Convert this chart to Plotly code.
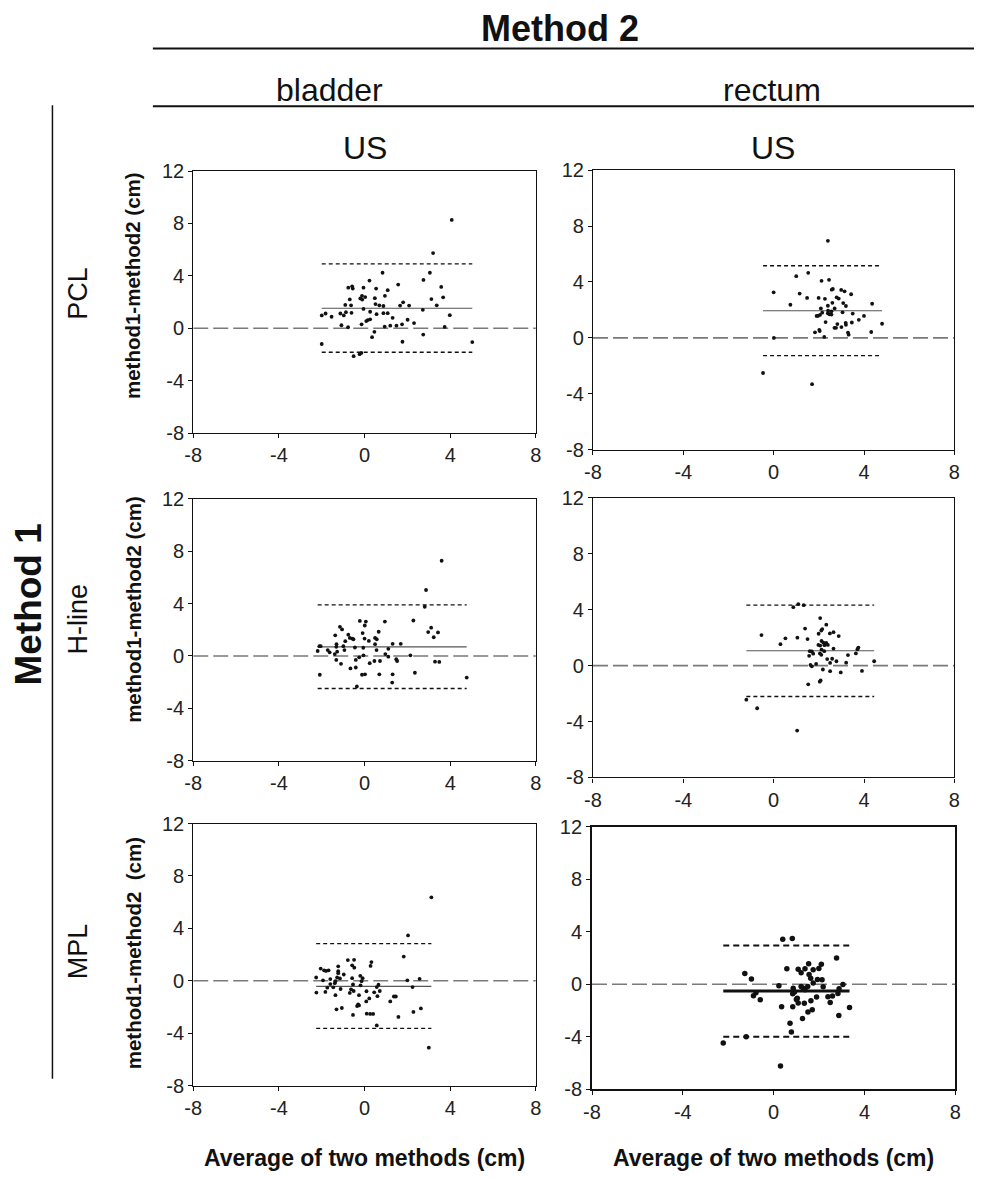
import plotly.graph_objects as go

# page offset (browser body margin) compensation
OFF = 8
FW, FH = 982 - OFF, 1178 - OFF

# ---------------- data ----------------
# Panel PCL / bladder
pcl_bl_x = [4.07, 3.2, 0.84, 3.05, 2.75, 0.23, 1.57, 3.58, -0.76, -0.58, -0.55, -0.05, 0.54, 1.08,
            -0.12, 0.95, -0.2, -0.11, 0.03, -0.69, 0.48, 3.12, 3.67, 1.8, 1.66, 2.08, 3.37, -0.9,
            -0.63, 0.51, 0.69, 0.88, -0.05, 0.26, 2.72, -2.0, -1.82, -1.54, -1.13, -0.97, -0.87,
            -0.61, 0.56, 0.88, 1.08, 3.98, 1.31, 0.08, 0.15, 0.26, 2.01, 2.31, -1.08, -0.77, -0.14,
            0.94, 1.2, 1.49, 1.75, 3.74, 0.46, 0.35, 2.74, -2.0, 1.77, 5.03, -0.51, -0.23, -0.15]
pcl_bl_y = [8.27, 5.74, 4.24, 4.24, 3.69, 3.64, 3.34, 3.16, 3.1, 3.2, 3.03, 3.1, 3.03, 2.91,
            2.48, 2.48, 2.28, 2.19, 2.38, 2.2, 2.3, 2.23, 2.36, 1.98, 1.73, 1.73, 1.75, 1.78,
            1.75, 1.85, 1.75, 1.7, 1.48, 1.26, 1.41, 0.98, 1.13, 0.88, 1.13, 0.98, 1.23,
            1.18, 1.08, 1.15, 1.15, 1.0, 0.8, 0.55, 0.63, 0.68, 0.65, 0.4, 0.23, 0.08, 0.3,
            0.13, 0.2, 0.2, 0.3, 0.1, -0.27, -0.68, -0.48, -1.2, -1.03, -1.05, -2.13, -1.98, -1.88]

# Panel PCL / rectum
pcl_re_x = [2.4, 1.0, 1.53, 2.12, 2.45, 0.0, 1.15, 2.57, 2.62, 2.99, 3.14, 3.43, 1.48, 1.99, 2.27,
            2.79, 2.88, 0.74, 2.6, 2.4, 3.08, 3.2, 4.36, 2.09, 2.7, 2.41, 2.56, 2.15, 3.05, 2.4,
            2.56, 2.47, 3.5, 2.05, 1.96, 1.9, 4.0, 3.77, 2.3, 3.19, 3.2, 2.82, 3.46, 4.8, 3.0,
            2.69, 2.76, 1.83, 2.02, 2.04, 3.29, 3.32, 4.32, 0.01, 2.24, -0.47, 1.7]
pcl_re_y = [6.94, 4.41, 4.65, 4.08, 4.15, 3.26, 3.17, 3.45, 3.5, 3.43, 3.33, 3.12, 2.86, 2.86, 2.79,
            2.9, 2.81, 2.37, 2.51, 2.3, 2.49, 2.28, 2.44, 2.11, 2.11, 1.94, 1.9, 1.8, 1.83, 1.76,
            1.67, 1.69, 1.74, 1.64, 1.57, 1.57, 1.57, 1.29, 1.13, 1.08, 0.94, 0.99, 1.1, 1.01, 0.77,
            0.72, 0.72, 0.4, 0.58, 0.49, 0.38, 0.23, 0.42, 0.0, 0.07, -2.51, -3.31]

# Panel H-line / bladder
hl_bl_x = [3.6, 2.87, 2.81, 2.28, -0.22, 0.06, 0.95, 0.01, -1.15, -1.05, 3.11, 2.97, 3.43, 0.66,
           -0.09, -1.37, -0.76, 3.23, -0.69, -0.58, -0.52, 0.0, 0.49, 0.57, -0.9, 0.2, 0.49, 1.31,
           1.69, -1.31, -2.11, -2.05, -1.32, -0.99, -0.45, -0.06, 1.11, -0.94, 0.56, -2.19, -1.72,
           -1.63, -1.28, -1.39, 0.97, 2.14, -0.05, -0.25, 1.11, -1.32, -0.41, 1.48, 1.52, 0.46,
           0.72, 0.24, 3.29, 3.49, -1.1, -0.66, -0.41, -2.09, -0.12, 0.02, 0.69, 1.31, 2.35, 4.77,
           1.29, -0.36]
hl_bl_y = [7.27, 5.04, 3.76, 2.71, 2.68, 2.63, 2.63, 2.33, 2.23, 2.03, 2.16, 1.83, 1.8, 1.85,
           1.75, 1.58, 1.63, 1.43, 1.38, 1.33, 1.28, 1.33, 1.38, 1.28, 1.13, 1.15, 0.9, 0.93,
           0.93, 0.9, 0.75, 0.75, 0.7, 0.75, 0.65, 0.63, 0.55, 0.45, 0.45, 0.38, 0.45,
           0.28, 0.33, 0.15, 0.15, 0.05, 0.05, -0.1, -0.05, -0.3, -0.3, -0.25, -0.38, -0.38,
           -0.38, -0.55, -0.43, -0.45, -0.6, -0.95, -0.88, -1.43, -1.43, -1.4, -1.4, -1.4, -1.28, -1.65,
           -2.03, -2.33]

# Panel H-line / rectum
hl_re_x = [1.09, 0.87, 1.33, 2.06, 2.33, 1.39, 2.15, 2.11, 1.99, 2.49, 2.65, 2.88, -0.54, 0.52,
           1.05, 1.5, 0.3, 2.12, 2.2, 2.33, 1.98, 2.06, 2.25, 2.4, 2.65, 2.12, 2.24, 3.75, 3.71,
           1.6, 1.69, 1.75, 1.57, 2.05, 2.11, 3.29, 3.64, 2.37, 2.59, 2.78, 2.5, 3.21, 4.45, 1.88,
           1.63, 1.69, 2.18, 2.5, 2.97, 3.91, 1.53, 2.04, 2.08, -1.21, -0.73, 1.04]
hl_re_y = [4.39, 4.18, 4.32, 3.4, 2.93, 2.65, 2.61, 2.51, 2.28, 2.3, 2.39, 2.11, 2.18, 1.95,
           2.0, 1.9, 1.53, 1.76, 1.64, 1.62, 1.48, 1.43, 1.46, 1.48, 1.22, 1.15, 1.03, 1.29, 1.17,
           1.03, 1.01, 0.85, 0.7, 0.87, 0.77, 0.75, 0.87, 0.47, 0.49, 0.31, 0.19, 0.21, 0.31, 0.12,
           0.05, -0.05, -0.28, -0.4, -0.49, -0.38, -1.34, -1.15, -1.06, -2.44, -3.05, -4.65]

# Panel MPL / bladder
mpl_bl_x = [3.12, 2.03, 1.83, -0.78, -0.49, 0.32, 0.28, -0.58, -0.48, -2.05, -1.89, -1.8, -1.68,
            -1.23, -1.23, -1.23, -0.97, -1.28, -1.15, -2.26, -0.58, -0.2, -0.09, -1.94, -1.6, -1.36,
            -0.14, 2.0, 2.57, -1.6, -1.39, -0.54, -0.19, 0.65, 0.57, -1.74, -1.46, -1.12, -0.63,
            -0.51, 2.24, -2.25, -1.83, -0.69, 0.09, 0.45, 0.71, -1.36, -0.26, 0.6, 0.22, 0.08, 1.37,
            1.46, 1.2, -0.3, -0.35, -0.26, -1.31, -1.06, -0.54, 0.1, 0.26, 0.4, 2.63, 2.28, 1.58,
            0.57, 3.0]
mpl_bl_y = [6.37, 3.46, 1.85, 1.58, 1.6, 1.43, 1.13, 1.18, 1.0, 0.93, 0.8, 0.75, 0.8,
            1.1, 0.73, 0.58, 0.48, 0.25, 0.18, 0.25, 0.2, 0.38, 0.2, 0.03, 0.13, -0.03,
            -0.03, 0.03, 0.15, -0.25, -0.18, -0.28, -0.35, -0.3, -0.48, -0.53, -0.5, -0.63, -0.65,
            -0.78, -0.48, -0.9, -0.85, -0.93, -0.8, -0.88, -0.78, -1.1, -1.1, -1.18, -1.35, -1.58, -1.2,
            -1.2, -1.58, -1.8, -1.93, -1.88, -2.18, -2.08, -2.61, -2.51, -2.53, -2.53, -2.11, -2.38, -2.76,
            -3.41, -5.11]

# Panel MPL / rectum
mpl_re_x = [0.4, 0.82, 2.77, 1.54, 2.1, 1.08, 1.38, 1.74, 1.99, 0.58, 1.21, 1.56, -1.27, -0.98,
            1.63, 1.93, 2.13, 1.74, 3.05, 0.23, 1.21, 1.3, 1.5, 1.38, 0.86, 0.92, 0.84, 2.18, 2.88,
            2.83, -0.78, -0.89, -0.59, 2.39, 2.59, 1.89, 1.04, 1.0, 1.64, 1.08, 1.35, 2.49, 0.35,
            0.84, 3.34, 1.7, 1.51, 2.87, 1.27, 0.72, 0.78, -1.21, -2.22, 0.3]
mpl_re_y = [3.43, 3.48, 2.0, 1.57, 1.52, 1.14, 1.18, 1.11, 1.21, 1.18, 0.87, 0.75, 0.82, 0.41,
            0.46, 0.36, 0.34, 0.1, -0.02, -0.12, -0.17, -0.31, -0.17, -0.41, -0.31, -0.58, -0.72, -0.19, -0.34,
            -0.7, -0.65, -0.87, -1.18, -0.94, -0.89, -0.97, -1.06, -1.16, -1.26, -1.43, -1.45, -1.38, -1.71,
            -1.71, -1.76, -1.93, -2.1, -2.37, -2.61, -2.97, -3.62, -3.99, -4.47, -6.21]

# bias (mean difference) and limits of agreement, per panel
bias = [1.53, 1.94, 0.70, 1.06, -0.43, -0.51]
loa_upper = [4.92, 5.16, 3.91, 4.32, 2.83, 2.95]
loa_lower = [-1.83, -1.27, -2.48, -2.21, -3.63, -3.99]

row_labels = ["PCL", "H-line", "MPL"]
col_labels = ["bladder", "rectum"]
col_sub = ["US", "US"]
x_ticks = [-8, -4, 0, 4, 8]
y_ticks = [-8, -4, 0, 4, 8, 12]
y_titles = ["method1-method2 (cm)", "method1-method2 (cm)", "method1-method2&nbsp; (cm)"]
x_title = "Average of two methods (cm)"

panels_x = [pcl_bl_x, pcl_re_x, hl_bl_x, hl_re_x, mpl_bl_x, mpl_re_x]
panels_y = [pcl_bl_y, pcl_re_y, hl_bl_y, hl_re_y, mpl_bl_y, mpl_re_y]

# ---------------- layout (page pixel boxes) ----------------
boxes = [
    (187, 535, 163, 430),
    (593, 960, 162, 447),
    (187, 535, 497, 764),
    (593, 960, 496, 781),
    (187, 535, 828, 1095),
    (592, 961, 831, 1099),
]

def PX(x):
    return (x - OFF) / FW

def PY(y):
    return 1 - (y - OFF) / FH

FONT = "Liberation Sans, Arial, Helvetica, sans-serif"
fig = go.Figure()

for i, (bx0, bx1, by0, by1) in enumerate(boxes):
    n = i + 1
    xa = "x" if n == 1 else f"x{n}"
    ya = "y" if n == 1 else f"y{n}"
    heavy = (i == 5)
    xs, ys = panels_x[i], panels_y[i]
    x0, x1 = min(xs), max(xs)
    # zero line
    fig.add_trace(go.Scatter(x=[-8, 8], y=[0, 0], mode="lines", xaxis=xa, yaxis=ya,
                             line=dict(color="#7a7a7a", width=1.6, dash="15px,5px"),
                             hoverinfo="skip", showlegend=False))
    # limits of agreement
    for v in (loa_upper[i], loa_lower[i]):
        fig.add_trace(go.Scatter(x=[x0, x1], y=[v, v], mode="lines", xaxis=xa, yaxis=ya,
                                 line=dict(color="#111", width=2.2 if heavy else 1.3,
                                           dash="6px,4px" if heavy else "4px,3px"),
                                 hoverinfo="skip", showlegend=False))
    # bias line
    fig.add_trace(go.Scatter(x=[x0, x1], y=[bias[i], bias[i]], mode="lines", xaxis=xa, yaxis=ya,
                             line=dict(color="#111" if heavy else "#555", width=2.8 if heavy else 1.1),
                             hoverinfo="skip", showlegend=False))
    # points
    fig.add_trace(go.Scatter(x=xs, y=ys, mode="markers", xaxis=xa, yaxis=ya,
                             marker=dict(color="#111", size=5.5 if heavy else 3.8, line=dict(width=0)),
                             showlegend=False))

    axline = dict(showline=True, linecolor="#111", linewidth=1.8 if heavy else 1.2, mirror=True,
                  showgrid=False, zeroline=False, ticks="outside", ticklen=4, tickwidth=1,
                  tickcolor="#111", tickfont=dict(family=FONT, size=20, color="#222"))
    fig.layout[f"xaxis{'' if n == 1 else n}"] = dict(
        domain=[PX(bx0), PX(bx1)], anchor=ya, range=[-8, 8], tickvals=x_ticks,
        ticktext=[str(t) for t in x_ticks], **axline)
    fig.layout[f"yaxis{'' if n == 1 else n}"] = dict(
        domain=[PY(by1), PY(by0)], anchor=xa, range=[-8, 12], tickvals=y_ticks,
        ticktext=[str(t) for t in y_ticks], **axline)

ann = []
def label(x, y, text, size, bold=False, angle=0):
    ann.append(dict(x=PX(x), y=PY(y), xref="paper", yref="paper",
                    text=f"<b>{text}</b>" if bold else text,
                    showarrow=False, textangle=angle, xanchor="center", yanchor="middle",
                    font=dict(family=FONT, size=size, color="#111")))

label(560, 18, "Method 2", 36, bold=True)
label(325, 80, col_labels[0], 32)
label(775, 80, col_labels[1], 32)
label(361, 139, col_sub[0], 32)
label(776, 139, col_sub[1], 32)
label(20, 605, "Method 1", 37, bold=True, angle=-90)
row_cy = [288, 620, 958]
ytitle_cy = [280, 610, 960]
for r, lab in enumerate(row_labels):
    label(70, row_cy[r], lab, 27, angle=-90)
    label(126, ytitle_cy[r], y_titles[r], 20.5, bold=True, angle=-90)
label(361, 1169, x_title, 23, bold=True)
label(776, 1169, x_title, 23, bold=True)

shapes = [
    dict(type="line", xref="paper", yref="paper", x0=PX(146), x1=1, y0=PY(38), y1=PY(38),
         line=dict(color="#111", width=2)),
    dict(type="line", xref="paper", yref="paper", x0=PX(146), x1=1, y0=PY(97), y1=PY(97),
         line=dict(color="#111", width=2)),
    dict(type="line", xref="paper", yref="paper", x0=PX(44), x1=PX(44), y0=PY(96), y1=PY(1088),
         line=dict(color="#111", width=1.5)),
]

fig.update_layout(width=FW, height=FH, margin=dict(l=0, r=0, t=0, b=0), paper_bgcolor="white",
                  plot_bgcolor="white", annotations=ann, shapes=shapes, showlegend=False)
fig.write_html("out.html")
